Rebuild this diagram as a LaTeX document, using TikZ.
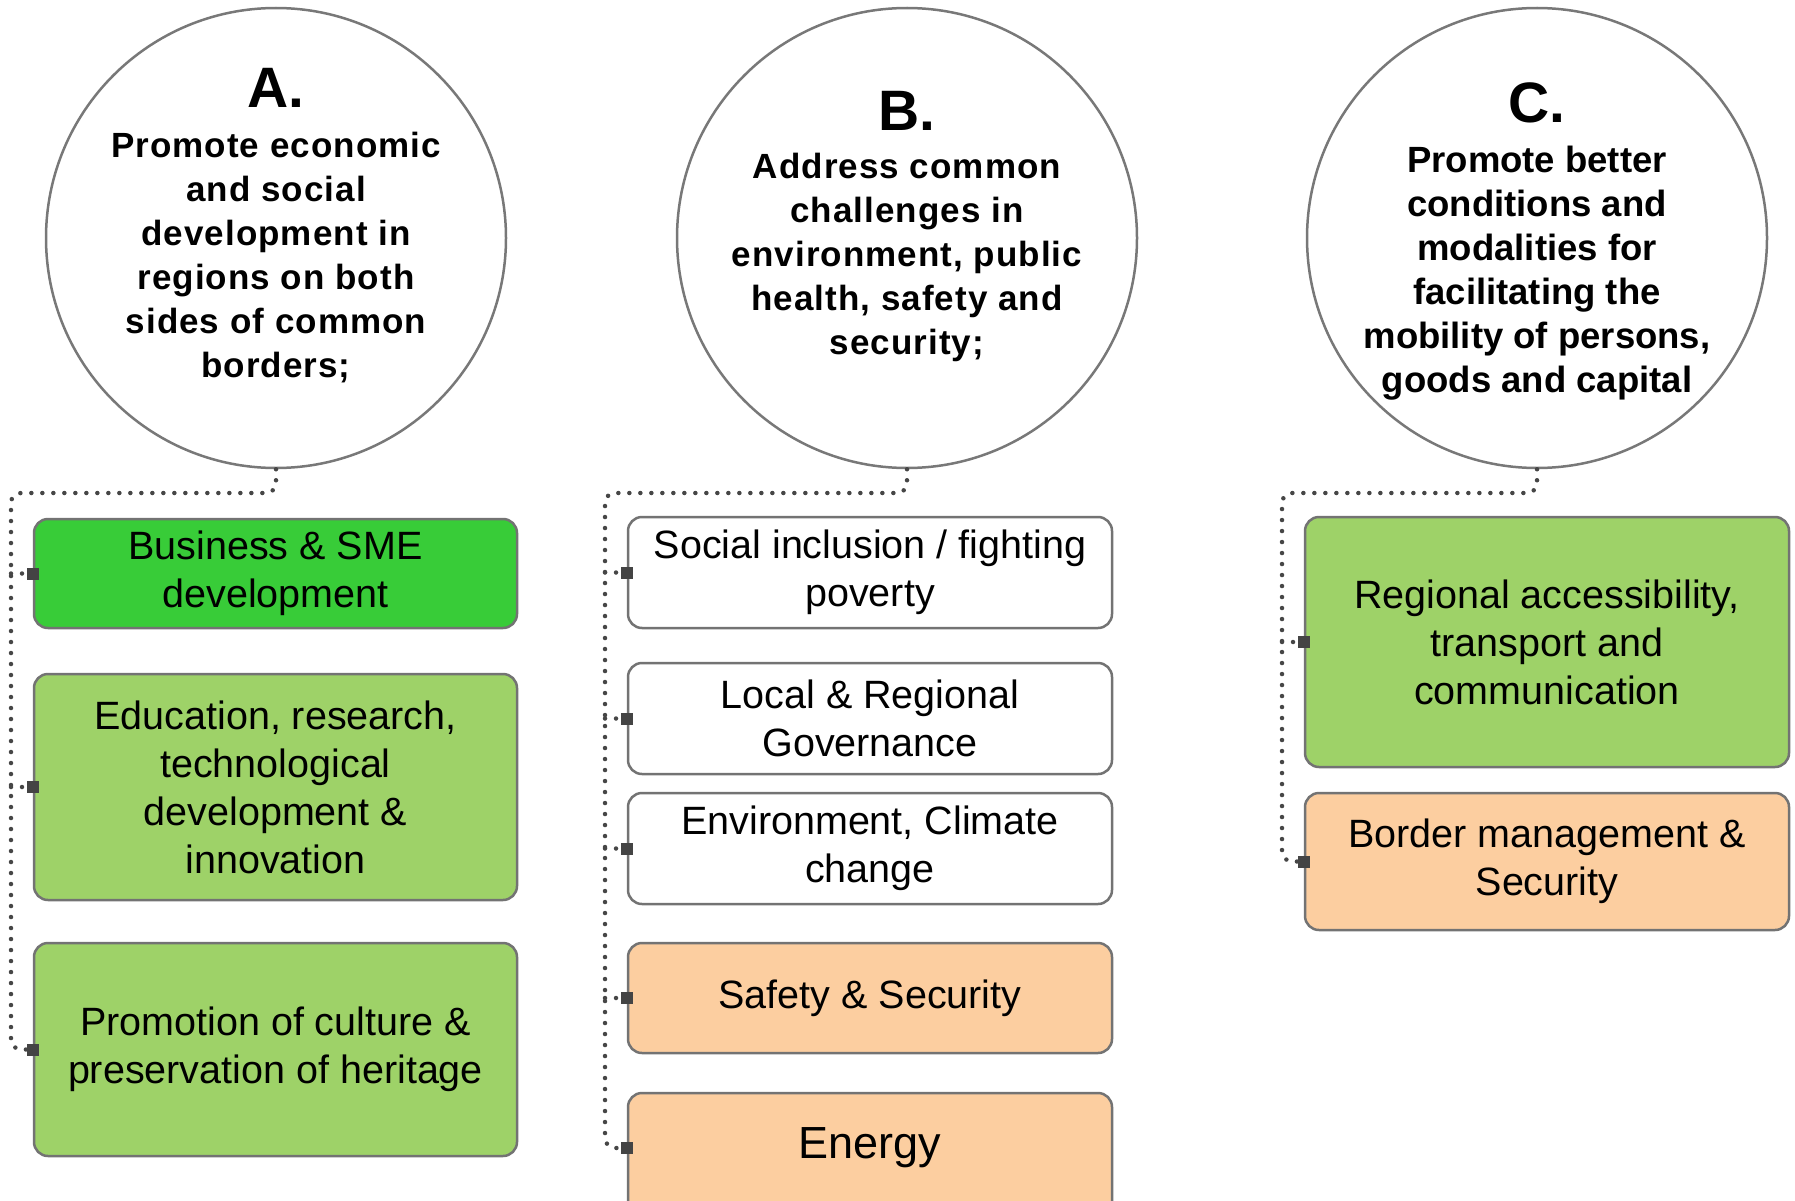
\documentclass[tikz,border=0pt]{standalone}
\usepackage{fontspec}
\setmainfont{Liberation Sans}
\newfontfamily\spacedfont{Liberation Sans}[LetterSpace=3]
\definecolor{brightgreen}{RGB}{56,204,56}
\definecolor{lightgreen}{RGB}{158,210,104}
\definecolor{lightorange}{RGB}{252,206,160}
\definecolor{circgray}{RGB}{120,120,120}
\definecolor{boxgray}{RGB}{115,115,115}
\definecolor{dotgray}{RGB}{70,70,70}
\definecolor{sqgray}{RGB}{68,68,68}
\begin{document}
\begin{tikzpicture}[x=1pt,y=-1pt,
  circ/.style={circle, draw=circgray, line width=2.5pt, fill=white, minimum size=460pt, inner sep=0pt},
  boxA/.style={rectangle, rounded corners=14pt, draw=boxgray, line width=2.5pt, minimum width=483pt, align=center, inner sep=0pt, font=\fontsize{39.5}{48}\selectfont},
  conn/.style={draw=dotgray, line width=4.5pt, line cap=round, dash pattern=on 0pt off 11pt, rounded corners=10pt},
  sq/.style={fill=sqgray, minimum size=12pt, inner sep=0pt},
  bigtitle/.style={font=\bfseries\fontsize{57}{60}\selectfont},
  bodytext/.style={align=center, font=\spacedfont\bfseries\fontsize{35}{44}\selectfont},
  bodyC/.style={align=center, font=\bfseries\fontsize{36.5}{44}\selectfont}
]
\useasboundingbox (0,0) rectangle (1795,1201);

% circles
\node[circ] (cA) at (276,238) {};
\node[circ] (cB) at (907,238) {};
\node[circ] (cC) at (1537,238) {};

\node[bigtitle] (tA) at (276,88) {A.};
\node[bodytext] (bA) at (276,258) {Promote economic\\and social\\development in\\regions on both\\sides of common\\borders;};

\node[bigtitle] (tB) at (907,111) {B.};
\node[bodytext] (bB) at (907,257) {Address common\\challenges in\\environment, public\\health, safety and\\security;};

\node[bigtitle] (tC) at (1537,103) {C.};
\node[bodyC] (bC) at (1537,273) {Promote better\\conditions and\\modalities for\\facilitating the\\mobility of persons,\\goods and capital};

% column A boxes
\node[boxA, fill=brightgreen, minimum height=109pt] (bus) at (275.5,573.5) {Business \& SME\\development};
\node[boxA, fill=lightgreen, minimum height=226pt] (edu) at (275.5,787) {Education, research,\\technological\\development \&\\innovation};
\node[boxA, fill=lightgreen, minimum height=213pt] (pro) at (275.5,1049.5) {Promotion of culture \&\\preservation of heritage};

% column B boxes
\node[boxA, fill=white, minimum width=484pt, minimum height=111pt] (soc) at (870,572.5) {Social inclusion / fighting\\poverty};
\node[boxA, fill=white, minimum width=484pt, minimum height=111pt] (loc) at (870,718.5) {Local \& Regional\\Governance};
\node[boxA, fill=white, minimum width=484pt, minimum height=111pt] (env) at (870,848.5) {Environment, Climate\\change};
\node[boxA, fill=lightorange, minimum width=484pt, minimum height=110pt] (saf) at (870,998) {Safety \& Security};
\node[boxA, fill=lightorange, minimum width=484pt, minimum height=130pt] (ene) at (870,1158) {};
\node[font=\fontsize{45}{50}\selectfont] (eneT) at (870,1148) {Energy};
\coordinate (eneW) at (ene.west |- eneT);

% column C boxes
\node[boxA, fill=lightgreen, minimum width=484pt, minimum height=250pt] (reg) at (1547,642) {Regional accessibility,\\transport and\\communication};
\node[boxA, fill=lightorange, minimum width=484pt, minimum height=137pt] (bor) at (1547,861.5) {Border management \&\\Security};

% trunk corner coordinates
\coordinate (kA) at (11,493);
\coordinate (kB) at (605,493);
\coordinate (kC) at (1282,493);

% connectors A
\draw[conn] (cA.south) |- (kA) |- (pro.west);
\draw[conn] (kA |- bus.west) -- (bus.west);
\draw[conn] (kA |- edu.west) -- (edu.west);

% connectors B
\draw[conn] (cB.south) |- (kB) |- (eneW);
\draw[conn] (kB |- soc.west) -- (soc.west);
\draw[conn] (kB |- loc.west) -- (loc.west);
\draw[conn] (kB |- env.west) -- (env.west);
\draw[conn] (kB |- saf.west) -- (saf.west);

% connectors C
\draw[conn] (cC.south) |- (kC) |- (bor.west);
\draw[conn] (kC |- reg.west) -- (reg.west);

% squares
\node[sq] (sBus) at (bus.west) {};
\node[sq] (sEdu) at (edu.west) {};
\node[sq] (sPro) at (pro.west) {};
\node[sq] (sSoc) at (soc.west) {};
\node[sq] (sLoc) at (loc.west) {};
\node[sq] (sEnv) at (env.west) {};
\node[sq] (sSaf) at (saf.west) {};
\node[sq] (sEne) at (eneW) {};
\node[sq] (sReg) at (reg.west) {};
\node[sq] (sBor) at (bor.west) {};
\end{tikzpicture}
\end{document}
